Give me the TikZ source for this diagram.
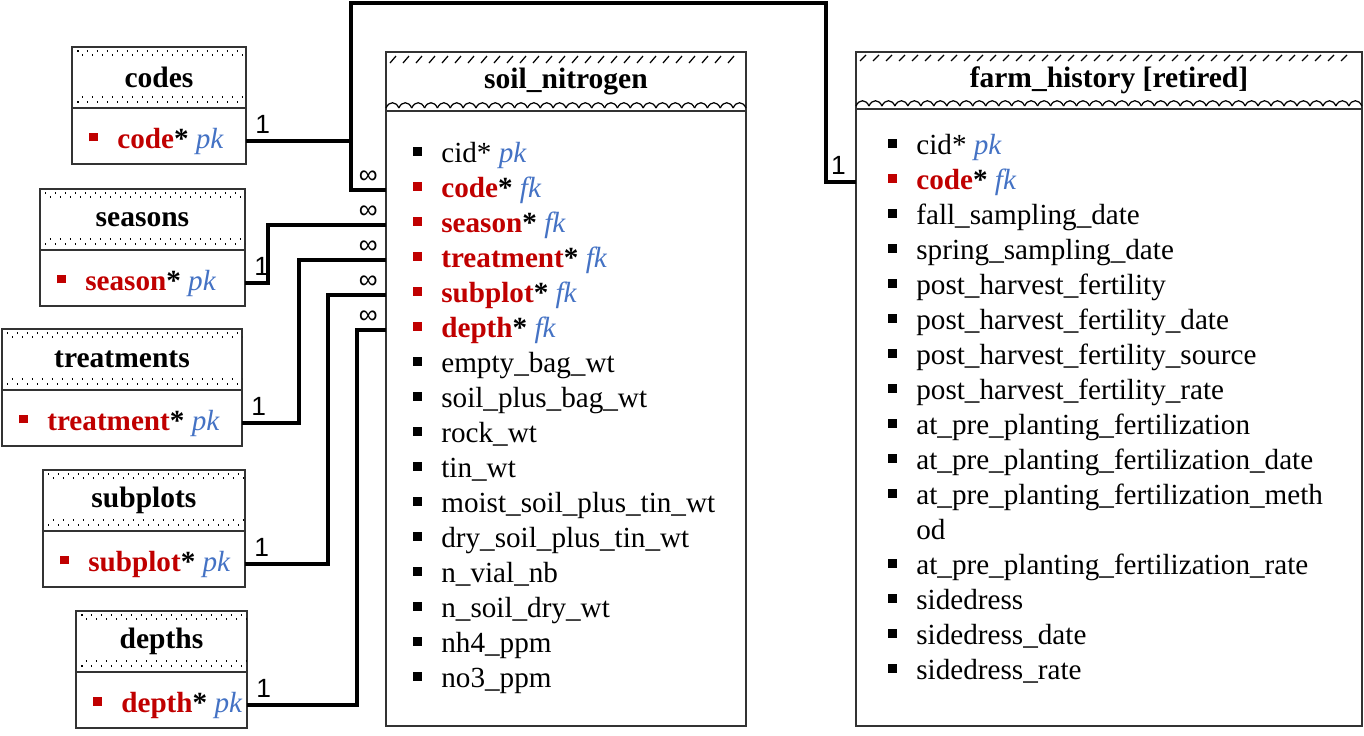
\documentclass[tikz,border=0pt]{standalone}
\usepackage{fontspec}
\setmainfont{Liberation Serif}
\newfontfamily\lblfont{Liberation Sans}
\usepackage{tikz}
\usetikzlibrary{positioning}
\definecolor{keyred}{HTML}{C00000}
\definecolor{keyblue}{HTML}{4472C4}
\newcommand{\bul}[1]{\textcolor{#1}{\raisebox{0.14cm}{\rule{0.17cm}{0.17cm}}}\hspace{0.39cm}}
\newcommand{\pkey}[1]{\bul{keyred}\textcolor{keyred}{\textbf{#1}}\textbf{*}\ \textcolor{keyblue}{\textit{pk}}}
\newcommand{\fkey}[1]{\bul{keyred}\textcolor{keyred}{\textbf{#1}}\textbf{*}\ \textcolor{keyblue}{\textit{fk}}}
\newcommand{\fld}[1]{\bul{black}#1}
\newcommand{\cidrow}{\bul{black}cid*\ \textcolor{keyblue}{\textit{pk}}}

\begin{document}
\begin{tikzpicture}[x=0.02cm, y=-0.02cm, font=\fontsize{16.6}{20}\selectfont,
  tablehead/.style={draw=black!80, line width=1.1pt, outer sep=0pt, anchor=north west, font=\fontsize{16.8}{20}\selectfont\bfseries},
  tablebody/.style={draw=black!80, line width=1.1pt, outer sep=0pt},
  row/.style={anchor=west, inner sep=0pt, text height=0.46cm, text depth=0.16cm},
  link/.style={line width=1.8pt},
  card/.style={inner sep=0pt, font=\lblfont\fontsize{15}{16}\selectfont},
  dotrow/.style={line width=0.03cm, dash pattern=on 0.03cm off 0.17cm},
  hatch/.style={line width=0.7pt}]
\useasboundingbox (0,0) rectangle (1364,735);

% lookup tables
\foreach \t/\s/\x/\y/\w in {codes/code/72/47/3.48, seasons/season/40/189/4.10, treatments/treatment/2/329/4.80, subplots/subplot/43/470/4.04, depths/depth/76/611/3.42} {
  \node[tablehead, minimum width=\w cm, minimum height=1.22cm] (\t-h) at (\x,\y) {\t};
  \node[tablebody, minimum width=\w cm, minimum height=1.12cm, below=0pt of \t-h] (\t) {};
  \node[row, xshift=0.34cm, yshift=-0.1cm] (\t-pk) at (\t.west) {\pkey{\s}};
  \draw[dotrow] ([xshift=0.1cm, yshift=-0.08cm]\t-h.north west) -- ([yshift=-0.08cm]\t-h.north east);
  \draw[dotrow, dash phase=0.1cm] ([xshift=0.1cm, yshift=-0.16cm]\t-h.north west) -- ([yshift=-0.16cm]\t-h.north east);
  \draw[dotrow, dash phase=0.1cm] ([xshift=0.1cm, yshift=0.22cm]\t-h.south west) -- ([yshift=0.22cm]\t-h.south east);
  \draw[dotrow] ([xshift=0.1cm, yshift=0.12cm]\t-h.south west) -- ([yshift=0.12cm]\t-h.south east);
}

% soil_nitrogen
\node[tablehead, minimum width=7.2cm, minimum height=1.18cm] (soil-h) at (386,52) {soil\_nitrogen};
\node[tablebody, minimum width=7.2cm, minimum height=12.3cm, below=0pt of soil-h] (soil) {};
\foreach \f [count=\i] in {\cidrow, \fkey{code}, \fkey{season}, \fkey{treatment}, \fkey{subplot}, \fkey{depth},
    \fld{empty\_bag\_wt}, \fld{soil\_plus\_bag\_wt}, \fld{rock\_wt}, \fld{tin\_wt}, \fld{moist\_soil\_plus\_tin\_wt},
    \fld{dry\_soil\_plus\_tin\_wt}, \fld{n\_vial\_nb}, \fld{n\_soil\_dry\_wt}, \fld{nh4\_ppm}, \fld{no3\_ppm}}
  \node[row] (sn-\i) at (413,120+35*\i) {\f};
\foreach \x in {390,403,...,738} \draw[hatch] (\x,63) -- (\x+6,56);
\foreach \i in {0,...,27} \draw[hatch] ({386+\i*12.857},108) .. controls +(3,-7) and +(-3,-7) .. ++(12.857,0);

% farm_history
\node[tablehead, minimum width=10.12cm, minimum height=1.14cm] (farm-h) at (856,52) {farm\_history [retired]};
\node[tablebody, minimum width=10.12cm, minimum height=12.34cm, below=0pt of farm-h] (farm) {};
\foreach \f [count=\i] in {\cidrow, \fkey{code}, \fld{fall\_sampling\_date}, \fld{spring\_sampling\_date},
    \fld{post\_harvest\_fertility}, \fld{post\_harvest\_fertility\_date}, \fld{post\_harvest\_fertility\_source},
    \fld{post\_harvest\_fertility\_rate}, \fld{at\_pre\_planting\_fertilization}, \fld{at\_pre\_planting\_fertilization\_date},
    \fld{at\_pre\_planting\_fertilization\_meth}, \hphantom{\bul{black}}od, \fld{at\_pre\_planting\_fertilization\_rate},
    \fld{sidedress}, \fld{sidedress\_date}, \fld{sidedress\_rate}}
  \node[row] (fh-\i) at (888,112+35*\i) {\f};
\foreach \x in {860,873,...,1352} \draw[hatch] (\x,61) -- (\x+6,55);
\foreach \i in {0,...,38} \draw[hatch] ({856+\i*12.97},106) .. controls +(3,-7) and +(-3,-7) .. ++(12.97,0);

% relations
\foreach \t/\d/\k in {codes/105/2, seasons/23/3, treatments/57/4, subplots/83/5, depths/110/6} {
  \draw[link] (\t.east |- \t-pk) -- ++(\d,0) |- (soil.west |- sn-\k);
  \node[card, anchor=south west, xshift=0.18cm, yshift=0.14cm] (one-\t) at (\t.east |- \t-pk) {1};
  \node[card, anchor=south east, xshift=-0.16cm, yshift=0.12cm] (many-\t) at (soil.west |- sn-\k) {∞};
}
\draw[link] (codes.east |- codes-pk) -- ++(105,0) |- (826,3) |- (farm.west |- fh-2);
\node[card, anchor=south east, xshift=-0.2cm, yshift=0.14cm] (one-farm) at (farm.west |- fh-2) {1};
\end{tikzpicture}
\end{document}
